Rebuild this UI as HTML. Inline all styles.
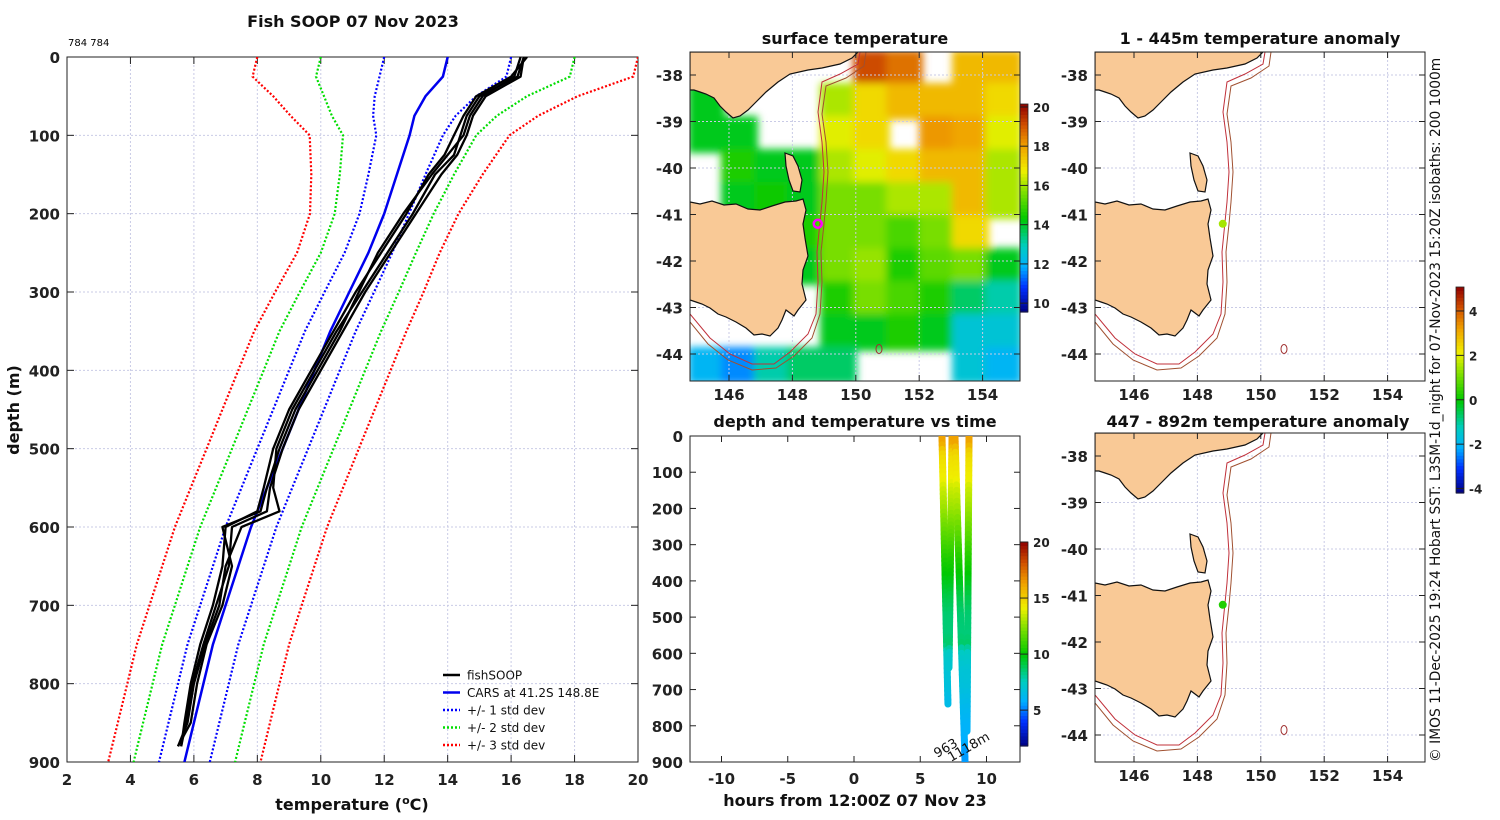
<!DOCTYPE html>
<html><head><meta charset="utf-8">
<style>
html,body{margin:0;padding:0;background:#fff;}
svg{display:block;font-family:"DejaVu Sans","Liberation Sans",sans-serif;}
.tk{font-size:15px;font-weight:bold;fill:#222;}
.tt{font-size:16px;font-weight:bold;fill:#111;}
</style></head>
<body>
<svg id="fig" width="1500" height="820" viewBox="0 0 1500 820" xmlns="http://www.w3.org/2000/svg">
<defs>
<filter id="blur6" x="-10%" y="-10%" width="120%" height="120%"><feGaussianBlur stdDeviation="4"/></filter>
<clipPath id="clipMain"><rect x="67" y="57" width="571" height="705"/></clipPath>
<clipPath id="clipMap"><rect x="0" y="0" width="330" height="329"/></clipPath>
<clipPath id="clipTS"><rect x="690" y="436" width="330" height="326"/></clipPath>
</defs>
<text x="353" y="27" text-anchor="middle" class="tt">Fish SOOP 07 Nov 2023</text>
<text x="68" y="46" font-size="10" fill="#000">784 784</text>
<g id="main"></g>
<g id="sst"></g>
<g id="ts"></g>
<g id="an1"></g>
<g id="an2"></g>
<text transform="translate(1440,762) rotate(-90)" font-size="13.8" fill="#111">© IMOS 11-Dec-2025 19:24 Hobart SST: L3SM-1d_night for 07-Nov-2023 15:20Z isobaths: 200  1000m</text>
</svg>
<script>
// ---------- data ----------
const depths = [0,25,50,75,100,150,200,250,300,350,400,450,500,550,600,650,700,750,800,850,900];
const carsMean = [14.0,13.85,13.3,12.95,12.8,12.4,12.0,11.5,10.9,10.3,9.8,9.3,8.8,8.3,7.8,7.4,7.0,6.6,6.3,6.0,5.7];
const carsStd = [2.0,2.0,1.6,1.3,1.05,0.9,0.78,0.75,0.78,0.8,0.8,0.8,0.8,0.8,0.8,0.8,0.8,0.8,0.8,0.8,0.8];
const soopDepths = [0,25,50,75,100,125,150,200,250,300,350,400,450,500,550,580,600,650,700,750,800,850,880];
const soop1 = [16.4,16.2,15.0,14.6,14.4,14.2,13.6,12.9,12.1,11.3,10.5,9.8,9.1,8.6,8.5,8.7,7.5,7.0,6.8,6.35,6.0,5.8,5.5];
const soop2 = [16.5,16.0,14.9,14.5,14.2,13.9,13.4,12.7,11.9,11.1,10.4,9.7,9.0,8.5,8.2,8.0,7.0,6.9,6.6,6.2,5.9,5.7,5.6];
const soop3 = [16.3,16.1,15.1,14.7,14.5,14.0,13.5,12.6,11.8,11.2,10.6,9.9,9.2,8.7,8.3,8.1,6.9,7.2,6.9,6.4,6.1,5.9,5.5];
const soop4 = [16.4,16.3,15.2,14.8,14.6,14.3,13.8,13.0,12.2,11.4,10.7,10.0,9.3,8.8,8.4,8.3,7.2,7.1,6.7,6.3,5.95,5.75,5.6];
const tempTicks = [2,4,6,8,10,12,14,16,18,20];
const depthTicks = [0,100,200,300,400,500,600,700,800,900];
// casts: start hour, end hour, max depth
const castStartHr = [6.64,7.40,7.62,8.68];
const castEndHr = [7.09,7.17,8.38,8.53];
const castMaxDepth = [740,640,900,815];
const hourTicks = [-10,-5,0,5,10];
// SST grid (10x10 cells over map, null = cloud)
const sstGrid = [
 [null,null,null,null,null,19,18.5,null,17.5,17.5],
 [14,null,null,null,16,17,17.5,17.5,17.5,17],
 [14,14,null,null,16.5,17,null,18,17.8,16.5],
 [null,14.5,14,14,16,16.5,17,17.5,17.5,16],
 [null,14,14.3,14,15.5,15.5,16,16,17.5,16],
 [null,null,null,14.5,15.5,15.5,15,15.5,17,null],
 [null,null,null,14,15.5,15.8,14.5,15.2,15.5,14],
 [null,null,null,null,14.5,15.5,15,14.5,13.5,13],
 [null,null,null,null,14,14,14.5,14,12.5,12.5],
 [12,11.5,13,13.5,13.5,null,null,null,12.5,12]];
const lonTicks = [146,148,150,152,154];
const latTicks = [-38,-39,-40,-41,-42,-43,-44];
const sstCbTicks = [10,12,14,16,18,20];
const anomCbTicks = [-4,-2,0,2,4];
const tsCbTicks = [5,10,15,20];
const shipLon = 148.8, shipLat = -41.2;
const anomUpper = 1.5, anomLower = 0.3;

const NS="http://www.w3.org/2000/svg";
function mk(tag,attrs,parent){const e=document.createElementNS(NS,tag);for(const k in attrs)e.setAttribute(k,attrs[k]);if(parent)parent.appendChild(e);return e;}
function txt(parent,x,y,s,cls,anchor){const t=mk('text',{x:x,y:y,'class':cls||'tk','text-anchor':anchor||'middle'},parent);t.textContent=s;return t;}

// colormap
const cstops=[[0,[0,0,127]],[0.12,[0,48,255]],[0.22,[0,176,255]],[0.32,[0,205,190]],[0.45,[0,200,0]],[0.58,[128,224,0]],[0.68,[240,240,0]],[0.8,[240,160,0]],[0.9,[208,80,0]],[1,[144,0,0]]];
function cmap(t){t=Math.max(0,Math.min(1,t));for(let i=1;i<cstops.length;i++){if(t<=cstops[i][0]){const a=cstops[i-1],b=cstops[i];const f=(t-a[0])/(b[0]-a[0]);const c=a[1].map((v,j)=>Math.round(v+(b[1][j]-v)*f));return `rgb(${c[0]},${c[1]},${c[2]})`;}}return 'rgb(144,0,0)';}

// ---------- main profile plot ----------
const main=document.getElementById('main');
const xT=t=>67+(t-2)*571/18, yD=d=>57+d*705/900;
tempTicks.forEach(t=>{const l=mk('line',{x1:xT(t),x2:xT(t),y1:57,y2:762,stroke:'#c9cbe6','stroke-dasharray':'2,2'},main);
 
 
 const tl=txt(main,xT(t),785,String(t));
 
 
 mk('line',{x1:xT(t),x2:xT(t),y1:762,y2:755,stroke:'#222'},main);mk('line',{x1:xT(t),x2:xT(t),y1:57,y2:64,stroke:'#222'},main);});
depthTicks.forEach(d=>{const l=mk('line',{x1:67,x2:638,y1:yD(d),y2:yD(d),stroke:'#c9cbe6','stroke-dasharray':'2,2'},main);
 
 
 const tl=txt(main,60,yD(d)+6,String(d),'tk','end');
 
 
 mk('line',{x1:67,x2:74,y1:yD(d),y2:yD(d),stroke:'#222'},main);mk('line',{x1:638,x2:631,y1:yD(d),y2:yD(d),stroke:'#222'},main);});
mk('rect',{x:67,y:57,width:571,height:705,fill:'none',stroke:'#222','stroke-width':1},main);
const xlab=mk('text',{x:352,y:810,'class':'tt','text-anchor':'middle'},main);
xlab.innerHTML='temperature (<tspan dy="-6" font-size="11">o</tspan><tspan dy="6">C)</tspan>';


const ylab=mk('text',{transform:'translate(19,410) rotate(-90)','class':'tt','text-anchor':'middle'},main);ylab.textContent='depth (m)';


const plotG=mk('g',{'clip-path':'url(#clipMain)'},main);
function linePath(ts,ds){return ts.map((t,i)=>(i?'L':'M')+xT(t).toFixed(1)+','+yD(ds[i]).toFixed(1)).join('');}
const bands=[[3,'#ff0000','red'],[2,'#00dd00','green'],[1,'#0000ff','blue']];
bands.forEach(b=>{[-1,1].forEach(s=>{const ts=carsMean.map((m,i)=>m+s*b[0]*carsStd[i]);
 const p=mk('path',{d:linePath(ts,depths),fill:'none',stroke:b[1],'stroke-width':2.2,'stroke-dasharray':'2,2'},plotG);
 
 });});
const cl=mk('path',{d:linePath(carsMean,depths),fill:'none',stroke:'#0000ee','stroke-width':2.5},plotG);


[soop1,soop2,soop3,soop4].forEach((s,i)=>{const p=mk('path',{d:linePath(s,soopDepths),fill:'none',stroke:'#000','stroke-width':2.3,'stroke-linejoin':'round'},plotG);
 
 });
// legend
const leg=mk('g',{},main);
[['fishSOOP','#000',''],['CARS at 41.2S 148.8E','#0000ee',''],['+/- 1 std dev','#0000ff','2,2'],['+/- 2 std dev','#00dd00','2,2'],['+/- 3 std dev','#ff0000','2,2']].forEach((e,i)=>{
 const y=675+i*17.5;mk('line',{x1:443,x2:460,y1:y,y2:y,stroke:e[1],'stroke-width':2.5,'stroke-dasharray':e[2]||'none'},leg);
 const t=mk('text',{x:467,y:y+4.5,'font-size':12,fill:'#111'},leg);t.textContent=e[0];
 
 });

// ---------- maps ----------
const mapX=lon=>(lon-144.77)*31.7, mapY=lat=>23+(-38-lat)*46.5;
const victoria="M0,0 L168,0 L162,6 L150,12 L132,16 L118,18 L100,22 L88,30 L76,40 L66,50 L58,58 L50,64 L43,66 L36,60 L30,54 L24,46 L16,42 L10,40 L4,38 L0,38 Z";
const tasmania="M0,150 L10,152 L22,149 L34,153 L46,152 L58,157 L70,158 L82,154 L95,150 L106,149 L113,147 L116,158 L113,172 L115,186 L118,204 L113,218 L112,232 L116,248 L108,258 L104,264 L96,258 L92,268 L88,276 L80,284 L72,282 L64,283 L56,276 L46,270 L36,265 L28,262 L20,256 L12,252 L6,250 L0,248 Z";
const flinders="M95,101 L103,104 L108,114 L112,128 L110,140 L103,139 L99,128 L96,114 Z";
const isoA="M170,0 L168,12 L150,22 L132,30 L128,60 L132,90 L134,120 L132,150 L130,170 L127,200 L128,230 L126,262 L118,282 L100,300 L84,312 L62,312 L40,302 L20,286 L0,262";
const isoB="M176,0 L174,14 L156,26 L136,34 L132,62 L136,90 L138,120 L136,150 L134,172 L131,200 L132,230 L130,262 L122,286 L104,304 L86,316 L62,318 L38,308 L18,292 L0,270";
function drawMap(parentId,ox,oy,withSST,dotVal,showCb){
 const P=document.getElementById(parentId);
 const g=mk('g',{transform:`translate(${ox},${oy})`},P);
 const inner=mk('g',{'clip-path':'url(#clipMap)'},g);
 mk('rect',{x:0,y:0,width:330,height:329,fill:'#fff'},inner);
 if(withSST){const sg=mk('g',{filter:'url(#blur6)'},inner);
  sstGrid.forEach((row,r)=>row.forEach((v,c)=>{if(v===null)return;
   const cell=mk('rect',{x:c*33-2,y:r*33-2,width:37,height:37,fill:cmap((v-9.5)/10.5)},sg);
   
   }));}
 lonTicks.forEach(l=>mk('line',{x1:mapX(l),x2:mapX(l),y1:0,y2:329,stroke:'#c9cbe6','stroke-dasharray':'2,2'},inner));
 latTicks.forEach(l=>mk('line',{x1:0,x2:330,y1:mapY(l),y2:mapY(l),stroke:'#c9cbe6','stroke-dasharray':'2,2'},inner));
 [victoria,tasmania,flinders].forEach((d,i)=>{const p=mk('path',{d:d,fill:'#f9c996',stroke:'#111','stroke-width':1.2},inner);
  
  });
 mk('path',{d:isoA,fill:'none',stroke:'#c0303a','stroke-width':1},inner);
 mk('path',{d:isoB,fill:'none',stroke:'#a05030','stroke-width':1},inner);
 mk('ellipse',{cx:189,cy:297,rx:3,ry:4.5,fill:'none',stroke:'#a03030','stroke-width':1},inner);
 const dot=withSST?mk('circle',{cx:mapX(shipLon),cy:mapY(shipLat),r:4,fill:'none',stroke:'#ff00ff','stroke-width':2.5},inner)
  :mk('circle',{cx:mapX(shipLon),cy:mapY(shipLat),r:4,fill:cmap((dotVal+4.2)/9.3)},inner);
 
 
 mk('rect',{x:0,y:0,width:330,height:329,fill:'none',stroke:'#222'},g);
 lonTicks.forEach(l=>{const t=txt(g,mapX(l),348,String(l));
  mk('line',{x1:mapX(l),x2:mapX(l),y1:329,y2:323,stroke:'#222'},g);mk('line',{x1:mapX(l),x2:mapX(l),y1:0,y2:6,stroke:'#222'},g);});
 latTicks.forEach(l=>{const t=txt(g,-7,mapY(l)+6,String(l),'tk','end');
  mk('line',{x1:0,x2:6,y1:mapY(l),y2:mapY(l),stroke:'#222'},g);mk('line',{x1:330,x2:324,y1:mapY(l),y2:mapY(l),stroke:'#222'},g);});
 return g;}
function colorbar(parent,x,yTop,yBot,vTop,vBot,ticks,name){
 const g=mk('g',{},parent);
 const n=60;for(let i=0;i<n;i++){const v=vBot+(vTop-vBot)*(i+0.5)/n;const h=(yBot-yTop)/n;
  mk('rect',{x:x,y:yBot-(i+1)*h,width:8,height:h+0.6,fill:cmap((v-vBot)/(vTop-vBot))},g);}
 mk('rect',{x:x,y:yTop,width:8,height:yBot-yTop,fill:'none',stroke:'#222','stroke-width':0.8},g);
 const yv=v=>yBot-(v-vBot)/(vTop-vBot)*(yBot-yTop);
 ticks.forEach(t=>{mk('line',{x1:x,x2:x+8,y1:yv(t),y2:yv(t),stroke:'#222'},g);
  const l=mk('text',{x:x+13,y:yv(t)+5,'font-size':12,'font-weight':'bold',fill:'#222'},g);l.textContent=String(t);
  });}
drawMap('sst',690,52,true,0,true);
let t1=txt(document.getElementById('sst'),855,44,'surface temperature','tt');
colorbar(document.getElementById('sst'),1020,104,312,20.15,9.55,sstCbTicks,'sst-colorbar');
drawMap('an1',1095,52,false,anomUpper);
let t2=txt(document.getElementById('an1'),1260,44,'1 - 445m temperature anomaly','tt');
drawMap('an2',1095,433,false,anomLower);
let t3=txt(document.getElementById('an2'),1258,427,'447 - 892m temperature anomaly','tt');
colorbar(document.getElementById('an1'),1456,287,493,5.08,-4.2,anomCbTicks,'anomaly-colorbar');

// ---------- depth/time plot ----------
const ts=document.getElementById('ts');
const xH=h=>854+h*13.25, yTD=d=>436+d*326/900;
mk('rect',{x:690,y:436,width:330,height:326,fill:'#fff',stroke:'#222'},ts);
hourTicks.forEach(h=>{const t=txt(ts,xH(h),784,String(h));
 mk('line',{x1:xH(h),x2:xH(h),y1:762,y2:756,stroke:'#222'},ts);mk('line',{x1:xH(h),x2:xH(h),y1:436,y2:442,stroke:'#222'},ts);});
depthTicks.forEach(d=>{const t=txt(ts,683,yTD(d)+6,String(d),'tk','end');
 mk('line',{x1:690,x2:696,y1:yTD(d),y2:yTD(d),stroke:'#222'},ts);mk('line',{x1:1020,x2:1014,y1:yTD(d),y2:yTD(d),stroke:'#222'},ts);});
let t4=txt(ts,855,427,'depth and temperature vs time','tt');
let t5=txt(ts,855,806,'hours from 12:00Z 07 Nov 23','tt');
function interpT(d){for(let i=1;i<soopDepths.length;i++){if(d<=soopDepths[i]){const f=(d-soopDepths[i-1])/(soopDepths[i]-soopDepths[i-1]);return soop1[i-1]+(soop1[i]-soop1[i-1])*f;}}return soop1[soop1.length-1];}
const tsClip=mk('g',{'clip-path':'url(#clipTS)'},ts);
castStartHr.forEach((h0,c)=>{const cg=mk('g',{},tsClip);
 const n=60,md=castMaxDepth[c];for(let i=0;i<n;i++){const d0=md*i/n,d1=md*(i+1)/n;
  const ha=h0+(castEndHr[c]-h0)*i/n,hb=h0+(castEndHr[c]-h0)*(i+1)/n;
  mk('line',{x1:xH(ha),y1:yTD(d0),x2:xH(hb),y2:yTD(d1),stroke:cmap((interpT((d0+d1)/2)-1.8)/18.2),'stroke-width':7,'stroke-linecap':'round'},cg);}});
const lb1=mk('text',{transform:`translate(${xH(castEndHr[2])-28},758) rotate(-30)`,'font-size':13,fill:'#111'},ts);lb1.textContent='963';

const lb2=mk('text',{transform:`translate(${xH(castEndHr[2])-14},762) rotate(-30)`,'font-size':13,fill:'#111'},ts);lb2.textContent='1118m';

colorbar(ts,1020,542,746,20,1.8,tsCbTicks,'ts-colorbar');
</script>
</body></html>
